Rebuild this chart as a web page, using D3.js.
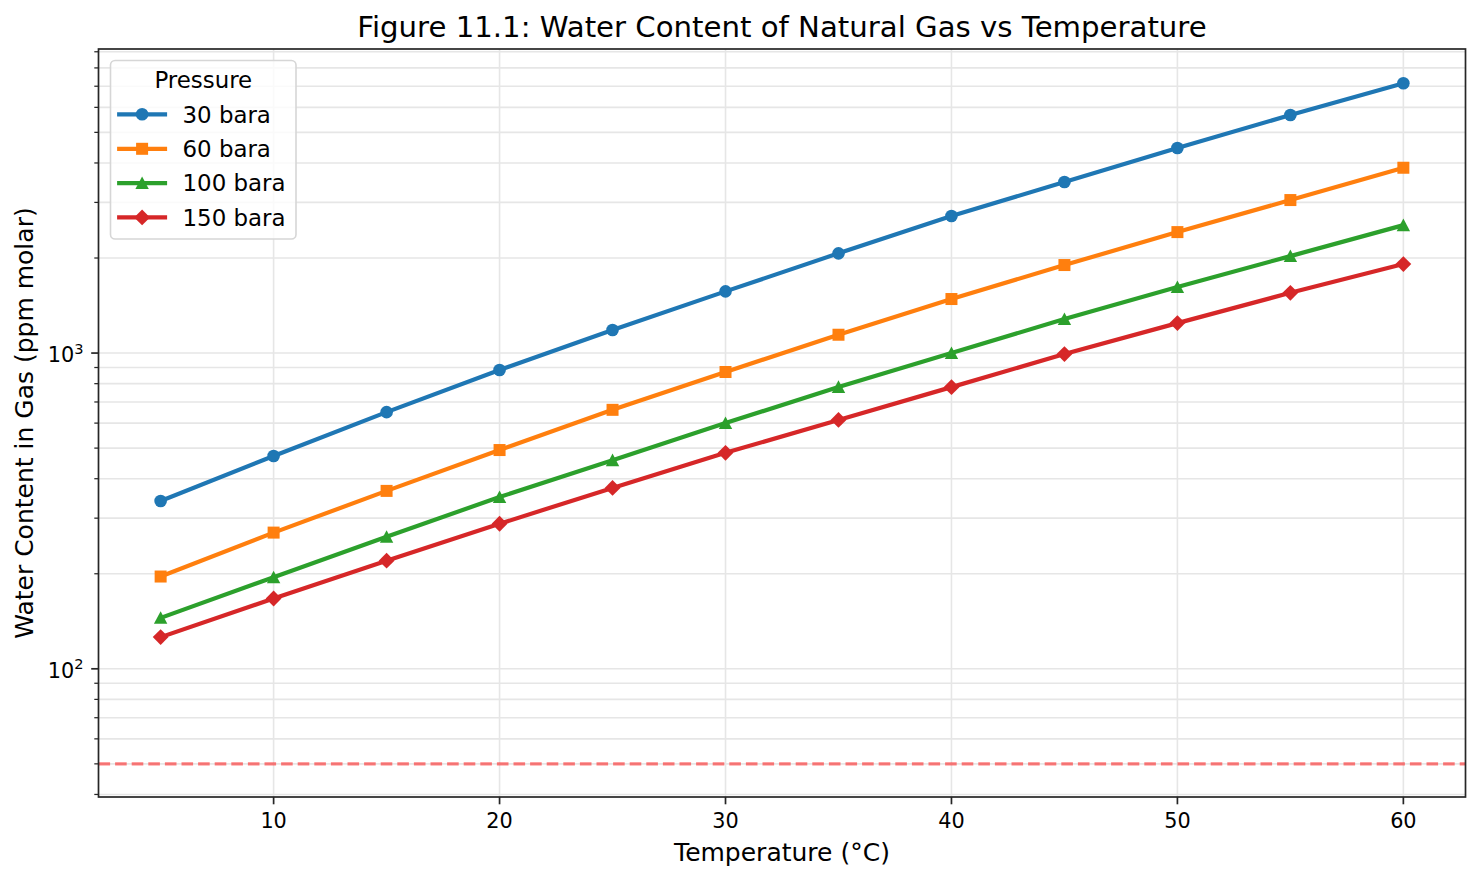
<!DOCTYPE html>
<html>
<head>
<meta charset="utf-8">
<script src="https://cdn.jsdelivr.net/npm/d3@7"></script>
<style>
  html, body { margin: 0; padding: 0; background: #fff; }
  svg { display: block; font-family: "DejaVu Sans", sans-serif; }
</style>
</head>
<body>
<svg id="chart" width="1481" height="880"></svg>
<script>
// ---- data ----
const temperatures = [5, 10, 15, 20, 25, 30, 35, 40, 45, 50, 55, 60];
const water30bara  = [340, 472, 650, 884, 1183, 1568, 2069, 2716, 3481, 4460, 5673, 7152];
const water60bara  = [196, 270, 366, 493, 661, 871, 1143, 1483, 1900, 2416, 3052, 3863];
const water100bara = [145, 195, 262, 350, 458, 600, 781, 1000, 1281, 1619, 2028, 2541];
const water150bara = [126, 167, 220, 288, 374, 483, 614, 780, 993, 1244, 1552, 1914];
const seriesLabels = ["30 bara", "60 bara", "100 bara", "150 bara"];
const seriesColors = ["#1f77b4", "#ff7f0e", "#2ca02c", "#d62728"];
const seriesMarkers = ["circle", "square", "triangle", "diamond"];
const thresholdPpm = 50;
const xTickValues = [10, 20, 30, 40, 50, 60];
const yMajorTickValues = [100, 1000];
const yMinorTickValues = [40, 50, 60, 70, 80, 90, 200, 300, 400, 500, 600, 700, 800, 900,
                          2000, 3000, 4000, 5000, 6000, 7000, 8000, 9000];
const titleText = "Figure 11.1: Water Content of Natural Gas vs Temperature";
const xLabelText = "Temperature (°C)";
const yLabelText = "Water Content in Gas (ppm molar)";
const legendTitle = "Pressure";

const seriesValues = [water30bara, water60bara, water100bara, water150bara];

// ---- layout ----
const L = 98.5, R = 1465.5, T = 49, B = 797;
const svg = d3.select("#chart");

const x = d3.scaleLinear().domain([2.25, 62.75]).range([L, R]);
const y = d3.scaleLog().domain([Math.pow(10, 1.594), Math.pow(10, 3.963)]).range([B, T]);

const gridColor = "#e6e6e6";
const axisColor = "#262626";

// grid
const grid = svg.append("g");
grid.selectAll("line.yminor").data(yMinorTickValues.filter(v => y(v) <= B && y(v) >= T))
  .join("line").attr("x1", L).attr("x2", R)
  .attr("y1", d => y(d)).attr("y2", d => y(d))
  .attr("stroke", gridColor).attr("stroke-width", 1.6);
grid.selectAll("line.ymajor").data(yMajorTickValues)
  .join("line").attr("x1", L).attr("x2", R)
  .attr("y1", d => y(d)).attr("y2", d => y(d))
  .attr("stroke", gridColor).attr("stroke-width", 1.6);
grid.selectAll("line.xmajor").data(xTickValues)
  .join("line").attr("y1", T).attr("y2", B)
  .attr("x1", d => x(d)).attr("x2", d => x(d))
  .attr("stroke", gridColor).attr("stroke-width", 1.6);

// threshold dashed line
svg.append("line")
  .attr("x1", L).attr("x2", R)
  .attr("y1", y(thresholdPpm)).attr("y2", y(thresholdPpm))
  .attr("stroke", "#ff0000").attr("stroke-opacity", 0.5)
  .attr("stroke-width", 3.1).attr("stroke-dasharray", "11.6,5");

// marker drawing
function drawMarker(g, type, cx, cy, color) {
  if (type === "circle") {
    g.append("circle").attr("cx", cx).attr("cy", cy).attr("r", 6.3).attr("fill", color);
  } else if (type === "square") {
    g.append("rect").attr("x", cx - 6).attr("y", cy - 6).attr("width", 12).attr("height", 12).attr("fill", color);
  } else if (type === "triangle") {
    g.append("path").attr("d", `M${cx},${cy - 6.6}L${cx - 6.7},${cy + 6}L${cx + 6.7},${cy + 6}Z`).attr("fill", color);
  } else {
    g.append("path").attr("d", `M${cx},${cy - 7.9}L${cx + 7.9},${cy}L${cx},${cy + 7.9}L${cx - 7.9},${cy}Z`).attr("fill", color);
  }
}

// series
const line = d3.line().x(d => x(d[0])).y(d => y(d[1]));
seriesValues.forEach((vals, i) => {
  const pts = temperatures.map((t, j) => [t, vals[j]]);
  const g = svg.append("g");
  g.append("path").attr("d", line(pts))
    .attr("fill", "none").attr("stroke", seriesColors[i]).attr("stroke-width", 4.2)
    .attr("stroke-linejoin", "round").attr("stroke-linecap", "square");
  pts.forEach(p => drawMarker(g, seriesMarkers[i], x(p[0]), y(p[1]), seriesColors[i]));
});

// spines
svg.append("rect").attr("x", L).attr("y", T).attr("width", R - L).attr("height", B - T)
  .attr("fill", "none").attr("stroke", axisColor).attr("stroke-width", 1.7);

// x ticks
const xt = svg.append("g");
xTickValues.forEach(v => {
  xt.append("line").attr("x1", x(v)).attr("x2", x(v)).attr("y1", B).attr("y2", B + 7.3)
    .attr("stroke", axisColor).attr("stroke-width", 1.7);
  xt.append("text").attr("x", x(v)).attr("y", 828).attr("text-anchor", "middle")
    .attr("font-size", 20.8).attr("fill", "#000").text(v);
});

// y ticks
const yt = svg.append("g");
yMinorTickValues.filter(v => y(v) <= B + 0.5 && y(v) >= T).forEach(v => {
  yt.append("line").attr("x1", L).attr("x2", L - 4.2).attr("y1", y(v)).attr("y2", y(v))
    .attr("stroke", axisColor).attr("stroke-width", 1.25);
});
yMajorTickValues.forEach(v => {
  yt.append("line").attr("x1", L).attr("x2", L - 7.3).attr("y1", y(v)).attr("y2", y(v))
    .attr("stroke", axisColor).attr("stroke-width", 1.7);
  const t = yt.append("text").attr("x", 83.5).attr("y", y(v) + 9).attr("text-anchor", "end")
    .attr("fill", "#000");
  t.append("tspan").attr("font-size", 20.8).text("10");
  t.append("tspan").attr("font-size", 14.6).attr("dy", -8.5).text(Math.round(Math.log10(v)));
});

// title and labels
svg.append("text").attr("x", (L + R) / 2).attr("y", 36.5).attr("text-anchor", "middle")
  .attr("font-size", 29.2).attr("fill", "#000").text(titleText);
svg.append("text").attr("x", (L + R) / 2).attr("y", 861).attr("text-anchor", "middle")
  .attr("font-size", 25).attr("fill", "#000").text(xLabelText);
svg.append("text").attr("transform", `translate(33,${(T + B) / 2}) rotate(-90)`)
  .attr("text-anchor", "middle").attr("font-size", 25).attr("fill", "#000").text(yLabelText);

// legend
const lg = svg.append("g");
lg.append("rect").attr("x", 110.5).attr("y", 60.5).attr("width", 185.5).attr("height", 178.5)
  .attr("rx", 4.6).attr("ry", 4.6)
  .attr("fill", "#fff").attr("fill-opacity", 0.8)
  .attr("stroke", "#d6d6d6").attr("stroke-width", 1.6);
lg.append("text").attr("x", 203.3).attr("y", 87.5).attr("text-anchor", "middle")
  .attr("font-size", 22.9).attr("fill", "#000").text(legendTitle);
const rowY = [114.3, 148.8, 183.1, 217.4];
seriesLabels.forEach((lab, i) => {
  const cy = rowY[i];
  lg.append("line").attr("x1", 119.2).attr("x2", 165).attr("y1", cy).attr("y2", cy)
    .attr("stroke", seriesColors[i]).attr("stroke-width", 4.2).attr("stroke-linecap", "square");
  drawMarker(lg, seriesMarkers[i], 142.1, cy, seriesColors[i]);
  lg.append("text").attr("x", 182.5).attr("y", cy + 8.3).attr("font-size", 22.9)
    .attr("fill", "#000").text(lab);
});
</script>
</body>
</html>
